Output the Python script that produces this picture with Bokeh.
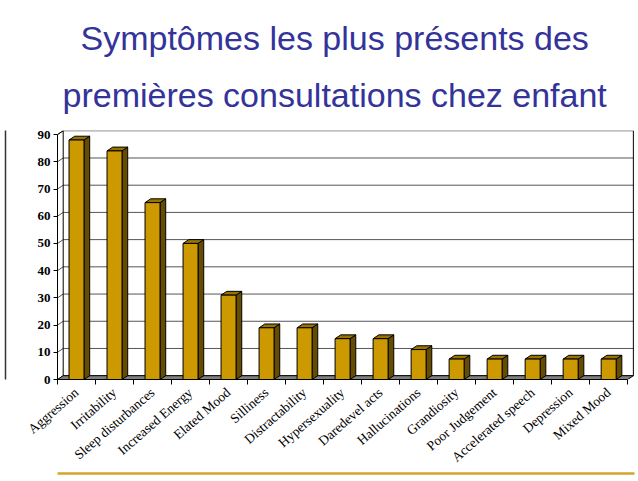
import math
from bokeh.plotting import figure
from bokeh.models import Range1d, FixedTicker, Title, LinearAxis, ColumnDataSource
from bokeh.embed import file_html
from bokeh.resources import INLINE

# ---- data ----
categories = ["Aggression", "Irritability", "Sleep disturbances", "Increased Energy",
              "Elated Mood", "Silliness", "Distractability", "Hypersexuality",
              "Daredevel acts", "Hallucinations", "Grandiosity", "Poor Judgement",
              "Accelerated speech", "Depression", "Mixed Mood"]
values = [88, 84, 65, 50, 31, 19, 19, 15, 15, 11, 7.5, 7.5, 7.5, 7.5, 7.5]
y_ticks = [0, 10, 20, 30, 40, 50, 60, 70, 80, 90]
title_lines = ["Symptômes les plus présents des", "premières consultations chez enfant"]

# ---- style / 3D depth ----
N = len(categories)
YMAX = y_ticks[-1]
DX = 0.15   # depth offset (category units)
DY = 1.4    # depth offset (value units)
HALF = 0.197

FRONT = "#CC9900"
SIDE = "#664C00"
TOP = "#997300"
FLOOR = "#808080"
TITLE_COLOR = "#333399"
GOLD = "#D4A52A"

W, H = 636, 479
p = figure(width=W, height=H, output_backend="svg", toolbar_location=None,
           x_range=Range1d(0, N + DX + 0.03), y_range=Range1d(0, YMAX + DY + 0.1),
           min_border_left=57, min_border_right=2, min_border_top=130, min_border_bottom=100)
p.outline_line_color = None
p.grid.visible = False
p.background_fill_color = "white"
p.border_fill_color = "white"

# title: two stacked lines above the chart (p.title is the outer, first line)
p.title.text = title_lines[0]
p.title.align = "left"
p.title.offset = 23
p.title.standoff = 0
p.title.text_font = "Liberation Sans"
p.title.text_font_size = "34px"
p.title.text_font_style = "normal"
p.title.text_color = TITLE_COLOR
p.add_layout(Title(text=title_lines[1], align="left", offset=5, standoff=34,
                   text_font="Liberation Sans", text_font_size="34px",
                   text_font_style="normal", text_color=TITLE_COLOR), "above")

# back wall grid lines (with left-wall diagonal)
gx = [[0, DX, N + DX] for _ in y_ticks]
gy = [[t, t + DY, t + DY] for t in y_ticks]
p.multi_line(gx, gy, line_color="#555555", line_width=1)
# back wall frame edges
p.multi_line([[DX, DX], [N + DX, N + DX], [0, DX]],
             [[DY, YMAX + DY], [DY, YMAX + DY], [YMAX, YMAX + DY]],
             line_color="black", line_width=1)
# floor
p.patch([0, N, N + DX, DX], [0, 0, DY, DY], fill_color=FLOOR, line_color="black", line_width=1)

# bars
centers = [i + 0.5 for i in range(N)]
lefts = [c - HALF for c in centers]
rights = [c + HALF for c in centers]
side_src = ColumnDataSource(dict(
    xs=[[r, r + DX, r + DX, r] for r in rights],
    ys=[[0, DY, v + DY, v] for v in values]))
top_src = ColumnDataSource(dict(
    xs=[[l, l + DX, r + DX, r] for l, r in zip(lefts, rights)],
    ys=[[v, v + DY, v + DY, v] for v in values]))
p.patches("xs", "ys", source=side_src, fill_color=SIDE, line_color="black", line_width=1)
p.patches("xs", "ys", source=top_src, fill_color=TOP, line_color="black", line_width=1)
p.vbar(x=centers, width=2 * HALF, top=values, bottom=0, fill_color=FRONT,
       line_color="black", line_width=1)

# x axis: tick marks between categories, rotated labels at category centres
xa = p.xaxis[0]
xa.ticker = FixedTicker(ticks=centers, minor_ticks=list(range(N + 1)))
xa.major_label_overrides = {c: cat for c, cat in zip(centers, categories)}
xa.bounds = (0, N)
xa.major_tick_line_color = None
xa.major_tick_out = 0
xa.major_tick_in = 0
xa.minor_tick_line_color = "black"
xa.minor_tick_out = 5
xa.minor_tick_in = 0
xa.major_label_orientation = math.radians(41)
xa.major_label_standoff = 6
xa.major_label_text_font = "Liberation Serif"
xa.major_label_text_font_size = "13.5px"
xa.major_label_text_color = "black"
xa.axis_line_color = "black"

# y axis
ya = p.yaxis[0]
ya.ticker = FixedTicker(ticks=y_ticks, minor_ticks=[])
ya.bounds = (0, YMAX)
ya.major_tick_out = 4
ya.major_tick_in = 0
ya.major_tick_line_color = "black"
ya.minor_tick_line_color = None
ya.major_label_standoff = 3
ya.major_label_text_font = "Liberation Serif"
ya.major_label_text_font_size = "13px"
ya.major_label_text_font_style = "bold"
ya.major_label_text_color = "black"
ya.axis_line_color = "black"
ya.axis_label = "\u00a0"
ya.axis_label_text_font_size = "10px"
ya.axis_label_standoff = 15

# slide decorations drawn as bare axis lines: gold rule below, left slide edge
gold_axis = LinearAxis(ticker=FixedTicker(ticks=[], minor_ticks=[]),
                       major_tick_line_color=None, minor_tick_line_color=None,
                       major_label_text_font_size="0px",
                       axis_line_color=GOLD, axis_line_width=2.5,
                       bounds=(-1.35, N + 3))
p.add_layout(gold_axis, "below")
edge_axis = LinearAxis(ticker=FixedTicker(ticks=[], minor_ticks=[]),
                       major_tick_line_color=None, minor_tick_line_color=None,
                       major_label_text_font_size="0px",
                       axis_line_color="#333333", axis_line_width=1.5,
                       bounds=(-60, 135.6))
p.add_layout(edge_axis, "left")

open("out.html", "w").write(file_html(p, INLINE))
